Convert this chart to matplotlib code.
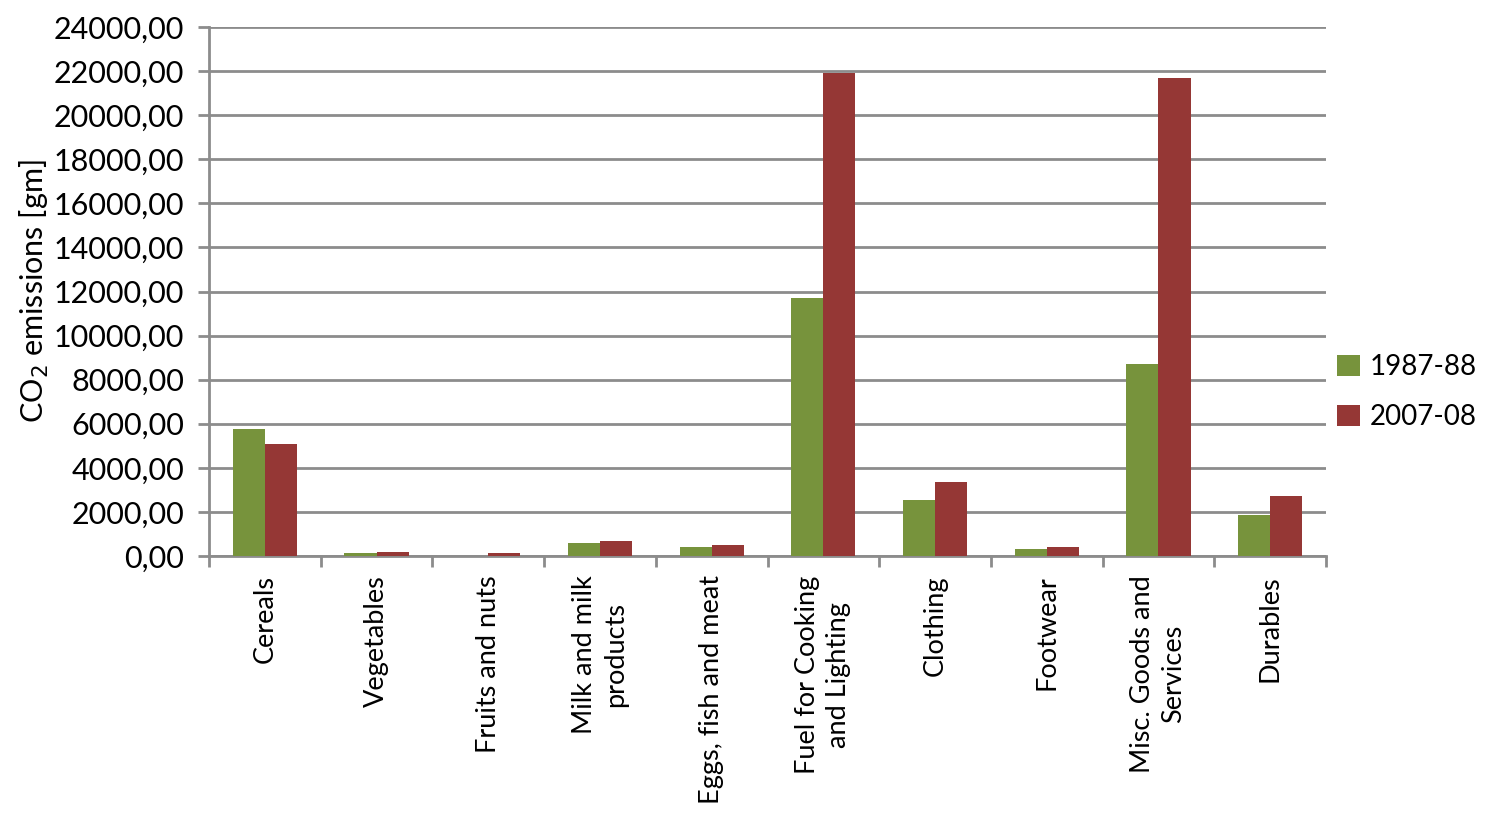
#import libraries
import numpy as np
import matplotlib.pyplot as plt
from matplotlib.ticker import FixedLocator, FuncFormatter

#Chart data
categories = ["Cereals", "Vegetables", "Fruits and nuts", "Milk and milk\nproducts",
              "Eggs, fish and meat", "Fuel for Cooking\nand Lighting", "Clothing",
              "Footwear", "Misc. Goods and\nServices", "Durables"]
values_1987 = [5760, 150, 10, 605, 420, 11700, 2525, 330, 8710, 1875]
values_2007 = [5095, 195, 120, 665, 485, 21900, 3340, 420, 21690, 2735]
series_names = ["1987-88", "2007-08"]
y_ticks = np.arange(0, 24001, 2000)

green = "#77933C"
red = "#953735"
grey = "#8C8C8C"

plt.rcParams["font.family"] = ["Lato", "DejaVu Sans"]

fig = plt.figure(figsize=(14.85, 8.16), dpi=100)
ax = fig.add_axes([209/1485, 1 - 556/816, (1326-209)/1485, (556-27)/816])

x = np.arange(len(categories))
w = 0.287
ax.bar(x - w/2, values_1987, width=w, color=green, label=series_names[0], zorder=3)
ax.bar(x + w/2, values_2007, width=w, color=red, label=series_names[1], zorder=3)

ax.set_xlim(-0.5, len(categories) - 0.5)
ax.set_ylim(0, 24000)
ax.set_yticks(y_ticks)
ax.yaxis.set_major_formatter(FuncFormatter(lambda v, p: f"{v:.2f}".replace(".", ",")))
ax.yaxis.grid(True, color=grey, linewidth=2, zorder=0)

ax.set_xticks(x)
ax.set_xticklabels(categories, rotation=90, va="top", ha="center", fontsize=19.5, linespacing=1.3)
ax.tick_params(axis="x", which="major", length=0, pad=14)
ax.xaxis.set_minor_locator(FixedLocator(np.arange(-0.5, len(categories), 1)))
ax.tick_params(axis="x", which="minor", length=8, width=2, color=grey)
ax.tick_params(axis="y", length=8, width=2, color=grey, labelsize=22, pad=10)

for s in ["top", "right"]:
    ax.spines[s].set_visible(False)
for s in ["left", "bottom"]:
    ax.spines[s].set_color(grey)
    ax.spines[s].set_linewidth(2)

ax.set_ylabel("CO$_2$ emissions [gm]", fontsize=22, labelpad=2)

ax.legend(loc="center left", bbox_to_anchor=(1.004, 0.31), frameon=False, fontsize=20,
          handlelength=0.8, handleheight=0.8, handletextpad=0.35, labelspacing=0.85,
          borderaxespad=0.0, borderpad=0.25)

fig.savefig("out.png", dpi=100)
